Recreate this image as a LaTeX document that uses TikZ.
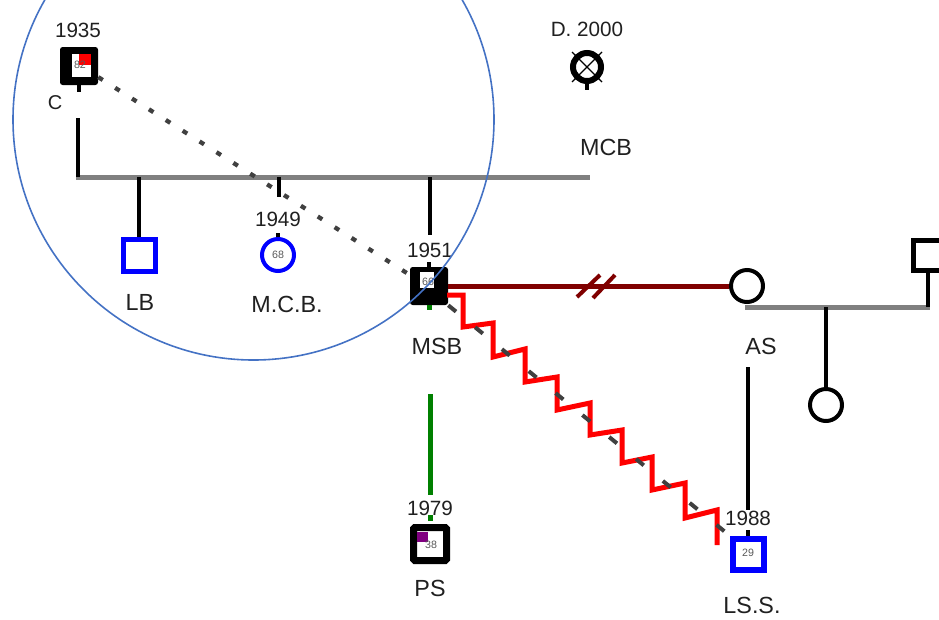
\documentclass[tikz,border=0pt]{standalone}
\usepackage{fontspec}
\setmainfont{Liberation Sans}
\definecolor{brn}{RGB}{128,0,0}
\definecolor{grn}{RGB}{0,128,0}
\definecolor{dk}{RGB}{64,64,64}
\definecolor{ring}{RGB}{68,114,196}
\definecolor{blu}{RGB}{0,0,255}
\definecolor{gry}{RGB}{128,128,128}
\definecolor{prp}{RGB}{128,0,128}
\definecolor{txt}{RGB}{32,32,32}
\begin{document}
\begin{tikzpicture}[x=0.75pt,y=-0.75pt,
  yr/.style={font=\fontsize{15.5}{17}\selectfont, text=txt, inner sep=0pt},
  nm/.style={font=\fontsize{17.5}{20}\selectfont, text=txt, inner sep=0pt},
  num/.style={font=\fontsize{8}{9}\selectfont, text=black!65, inner sep=0pt},
  stem/.style={line width=3pt, black},
  bar/.style={line width=3.75pt, gry},
  sqk/.style={draw=black, line width=5.25pt, minimum size=24.75pt, inner sep=0pt, rounded corners=1pt},
  sqb/.style={draw=blu, line width=4.5pt, minimum size=23.25pt, inner sep=0pt},
  cir/.style={circle, draw=black, line width=3pt, minimum size=24pt, inner sep=0pt},
  filledsq/.style={fill=black, inner sep=0pt, rounded corners=2pt}
]
\useasboundingbox (0,0) rectangle (939,619);
\clip (0,0) rectangle (939,619);

% ---- nodes (shapes) ----
\node[filledsq, minimum size=28.5pt] (c1935) at (79,66) {};
\fill[white] (72,54) rectangle (91,77);
\fill[red] (79,54) rectangle (91,65);
\node[num] (n82) at (80,65) {82};

\node[circle, draw=black, line width=4.5pt, minimum size=21pt, inner sep=0pt] (d2000) at (587,67) {};
\draw[line width=0.9pt] (d2000.center) ++(-15,-15) -- ++(30,30);
\draw[line width=0.9pt] (d2000.center) ++(15,-15) -- ++(-30,30);

\node[sqb, line width=3.75pt, minimum size=24pt] (lb) at (139,255) {};
\node[circle, draw=blu, line width=3pt, minimum size=24pt, inner sep=0pt] (mcb) at (278,255) {};
\node[num] (n68) at (278,255) {68};

\node[filledsq, minimum size=28.5pt] (msb) at (429,286) {};
\fill[white] (420,272) rectangle (434,288);
\node[num] (n66) at (428,282) {66};

\node[sqk] (ps) at (430,544) {};
\fill[prp] (417,532) rectangle (428,542);
\node[num] (n38) at (431,545) {38};

\node[sqb] (lss) at (748,554) {};
\node[num] (n29) at (748,553) {29};

\node[cir] (as) at (747,286) {};
\node[cir] (rc) at (826,405) {};
\node[draw=black, line width=3.75pt, minimum size=22.5pt, inner sep=0pt] (rsq) at (928,255) {};

% ---- labels ----
\node[yr] (t1935) at (78,30) {1935};
\node[nm, font=\fontsize{15}{17}\selectfont] (tc) at (55,103) {C};
\node[yr] (td2000) at (587,29) {D. 2000};
\node[nm] (tmcb) at (606,147) {MCB};
\node[yr] (t1949) at (278,219) {1949};
\node[nm] (tlb) at (140,302) {LB};
\node[nm] (tmcb2) at (287,304) {M.C.B.};
\node[yr] (t1951) at (430,250) {1951};
\node[nm] (tmsb) at (437,346) {MSB};
\node[nm] (tas) at (761,346) {AS};
\node[yr] (t1979) at (430,508) {1979};
\node[nm] (tps) at (430,588) {PS};
\node[yr] (t1988) at (748,518) {1988};
\node[nm] (tlss) at (752,605) {LS.S.};

% ---- coordinates ----
\coordinate (barL) at (76,177);
\coordinate (barR) at (590,177);
\coordinate (cTop) at (78,118);
\coordinate (bar2L) at (745,307);
\coordinate (bar2R) at (930,307);

% ---- sibship lines ----
\draw[bar] (barL) -- (barR);
\draw[stem] (cTop) -- (cTop |- barL);
\draw[stem] (c1935.south) -- ++(0,7);
\draw[stem] (d2000.south) -- ++(0,6);
\draw[stem] (lb.north |- barL) -- (lb.north);
\draw[stem] (279,177) -- (279,197);
\draw[stem] (mcb.north) -- ++(0,-4);
\draw[stem] (430,177) -- (430,235);
\draw[stem] (msb.north) -- ++(0,-5);

% ---- green ----
\draw[grn, line width=3.75pt] (msb.south) -- ++(0,5);
\draw[grn, line width=3.75pt] (430,394) -- (430,495);
\draw[grn, line width=3.75pt] (ps.north) ++(0,-3) -- ++(0,-6);

% ---- brown partnership ----
\draw[brn, line width=3.75pt] (msb.east) -- (as.west);
\draw[brn, line width=3pt] (577,297) -- (600,275);
\draw[brn, line width=3pt] (593,298) -- (615,275);

% ---- right family ----
\draw[bar] (bar2L) -- (bar2R);
\draw[stem] (rsq.south) -- (rsq.south |- bar2R);
\draw[stem] (rc.north |- bar2L) -- (rc.north);

% ---- AS to LS.S. ----
\draw[stem] (748,367) -- (748,510);
\draw[stem] (lss.north) -- ++(0,-6);

% ---- dotted line ----
\draw[dk, line width=3.2pt, dash pattern=on 4pt off 11pt] (c1935.-30) -- (msb.150);

% ---- zigzag ----
\draw[red, line width=3.75pt] (447,295) -- (463,295) -- (463,327) -- (493,323) -- (493,357) -- (525,349) -- (525,382) -- (557,377) -- (557,410) -- (590,403) -- (590,435) -- (622,430) -- (622,463) -- (652,457) -- (652,490) -- (685,483) -- (685,518) -- (717,510) -- (717,545);
\draw[dk, line width=3pt, dash pattern=on 7.5pt off 18.5pt] (msb.south east) -- (lss.north west);

% ---- blue ring ----
\draw[ring, line width=1.2pt] (253.5,119.5) circle [radius=240.5];
\end{tikzpicture}
\end{document}
